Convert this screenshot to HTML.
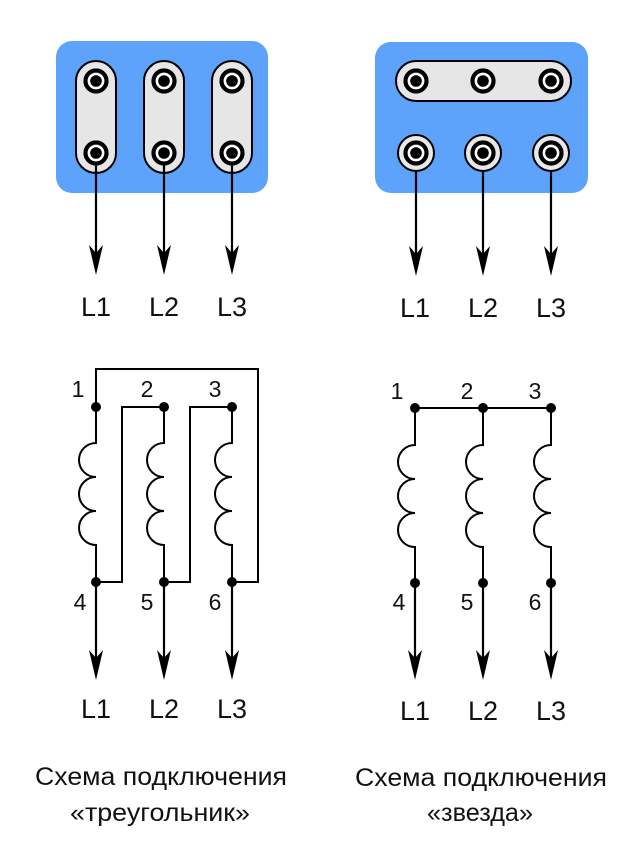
<!DOCTYPE html>
<html><head><meta charset="utf-8"><style>
html,body{margin:0;padding:0;background:#fff;}
svg{display:block;}
text{font-family:"Liberation Sans",sans-serif;fill:#111;}
</style></head><body>
<svg width="640" height="860" viewBox="0 0 640 860" xmlns="http://www.w3.org/2000/svg">
<defs>
  <g id="term">
    <circle r="10.5" fill="#fff" stroke="#000" stroke-width="4.2"/>
    <circle r="5.8" fill="#000"/>
  </g>
  <g id="bigterm">
    <circle r="18" fill="#e8e8e8" stroke="#000" stroke-width="2"/>
    <circle r="10.5" fill="#fff" stroke="#000" stroke-width="4.2"/>
    <circle r="5.8" fill="#000"/>
  </g>
</defs>

<!-- Top-left box -->
<rect x="56" y="41" width="212" height="152" rx="16" fill="#5da2fb"/>
<g fill="#e6e6e6" stroke="#000" stroke-width="2">
  <rect x="76" y="61" width="40" height="112" rx="20"/>
  <rect x="144" y="61" width="40" height="112" rx="20"/>
  <rect x="212" y="61" width="40" height="112" rx="20"/>
</g>
<use href="#term" x="96" y="81"/><use href="#term" x="96" y="153"/>
<use href="#term" x="164" y="81"/><use href="#term" x="164" y="153"/>
<use href="#term" x="232" y="81"/><use href="#term" x="232" y="153"/>

<!-- Top-right box -->
<rect x="375" y="42" width="213" height="151" rx="16" fill="#5da2fb"/>
<rect x="396" y="61" width="175" height="40" rx="20" fill="#e6e6e6" stroke="#000" stroke-width="2"/>
<use href="#term" x="416" y="81"/><use href="#term" x="483" y="81"/><use href="#term" x="551" y="81"/>
<use href="#bigterm" x="416" y="153"/><use href="#bigterm" x="483" y="153"/><use href="#bigterm" x="551" y="153"/>

<!-- top arrows -->
<g stroke="#000" stroke-width="2.2">
  <line x1="96" y1="165" x2="96" y2="258"/>
  <line x1="164" y1="165" x2="164" y2="258"/>
  <line x1="232" y1="165" x2="232" y2="258"/>
  <line x1="416" y1="171" x2="416" y2="258"/>
  <line x1="483" y1="171" x2="483" y2="258"/>
  <line x1="551" y1="171" x2="551" y2="258"/>
</g>
<g fill="#000">
  <polygon points="96,275 89,245 96,253 103,245"/>
  <polygon points="164,275 157,245 164,253 171,245"/>
  <polygon points="232,275 225,245 232,253 239,245"/>
  <polygon points="416,276 409,246 416,254 423,246"/>
  <polygon points="483,276 476,246 483,254 490,246"/>
  <polygon points="551,276 544,246 551,254 558,246"/>
</g>
<g font-size="27" text-anchor="middle">
  <text x="96" y="316">L1</text><text x="164" y="316">L2</text><text x="232" y="316">L3</text>
  <text x="415" y="317">L1</text><text x="483" y="317">L2</text><text x="551" y="317">L3</text>
</g>

<!-- Delta diagram -->
<g fill="none" stroke="#000" stroke-width="2">
  <polyline points="96,407 96,369 258,369 258,582 232,582"/>
  <polyline points="164,407 122,407 122,582 96,582"/>
  <polyline points="232,407 190,407 190,582 164,582"/>
  <path d="M96,407 V443 A17,17 0 0 0 96,477 A17,17 0 0 0 96,511 A17,17 0 0 0 96,545 V582"/>
  <path d="M164,407 V443 A17,17 0 0 0 164,477 A17,17 0 0 0 164,511 A17,17 0 0 0 164,545 V582"/>
  <path d="M232,407 V443 A17,17 0 0 0 232,477 A17,17 0 0 0 232,511 A17,17 0 0 0 232,545 V582"/>
</g>
<g fill="#000">
  <circle cx="96" cy="407" r="5"/><circle cx="164" cy="407" r="5"/><circle cx="232" cy="407" r="5"/>
  <circle cx="96" cy="582" r="5"/><circle cx="164" cy="582" r="5"/><circle cx="232" cy="582" r="5"/>
</g>

<!-- Star diagram -->
<g fill="none" stroke="#000" stroke-width="2">
  <line x1="415" y1="408" x2="551" y2="408"/>
  <path d="M415,408 V445 A17,17 0 0 0 415,479 A17,17 0 0 0 415,513 A17,17 0 0 0 415,547 V583"/>
  <path d="M483,408 V445 A17,17 0 0 0 483,479 A17,17 0 0 0 483,513 A17,17 0 0 0 483,547 V583"/>
  <path d="M551,408 V445 A17,17 0 0 0 551,479 A17,17 0 0 0 551,513 A17,17 0 0 0 551,547 V583"/>
</g>
<g fill="#000">
  <circle cx="415" cy="408" r="5"/><circle cx="483" cy="408" r="5"/><circle cx="551" cy="408" r="5"/>
  <circle cx="415" cy="583" r="5"/><circle cx="483" cy="583" r="5"/><circle cx="551" cy="583" r="5"/>
</g>

<!-- bottom arrows -->
<g stroke="#000" stroke-width="2.2">
  <line x1="96" y1="582" x2="96" y2="663"/>
  <line x1="164" y1="582" x2="164" y2="663"/>
  <line x1="232" y1="582" x2="232" y2="663"/>
  <line x1="415" y1="583" x2="415" y2="663"/>
  <line x1="483" y1="583" x2="483" y2="663"/>
  <line x1="551" y1="583" x2="551" y2="663"/>
</g>
<g fill="#000">
  <polygon points="96,680 89,650 96,658 103,650"/>
  <polygon points="164,680 157,650 164,658 171,650"/>
  <polygon points="232,680 225,650 232,658 239,650"/>
  <polygon points="415,680 408,650 415,658 422,650"/>
  <polygon points="483,680 476,650 483,658 490,650"/>
  <polygon points="551,680 544,650 551,658 558,650"/>
</g>

<!-- numbers -->
<g font-size="23" text-anchor="middle">
  <text x="78" y="397">1</text><text x="147" y="397">2</text><text x="215" y="397">3</text>
  <text x="80" y="610">4</text><text x="147" y="610">5</text><text x="215" y="610">6</text>
  <text x="397" y="399">1</text><text x="467" y="399">2</text><text x="535" y="399">3</text>
  <text x="399" y="610">4</text><text x="467" y="610">5</text><text x="535" y="610">6</text>
</g>

<g font-size="27" text-anchor="middle">
  <text x="96" y="718">L1</text><text x="164" y="718">L2</text><text x="232" y="718">L3</text>
  <text x="415" y="720">L1</text><text x="483" y="720">L2</text><text x="551" y="720">L3</text>
</g>

<!-- captions -->
<g font-size="25" text-anchor="middle">
  <text x="161" y="785" textLength="252" lengthAdjust="spacingAndGlyphs">Схема подключения</text>
  <text x="160" y="821" textLength="180" lengthAdjust="spacingAndGlyphs">«треугольник»</text>
  <text x="481" y="786" textLength="252" lengthAdjust="spacingAndGlyphs">Схема подключения</text>
  <text x="480" y="821" textLength="106" lengthAdjust="spacingAndGlyphs">«звезда»</text>
</g>
</svg>
</body></html>
